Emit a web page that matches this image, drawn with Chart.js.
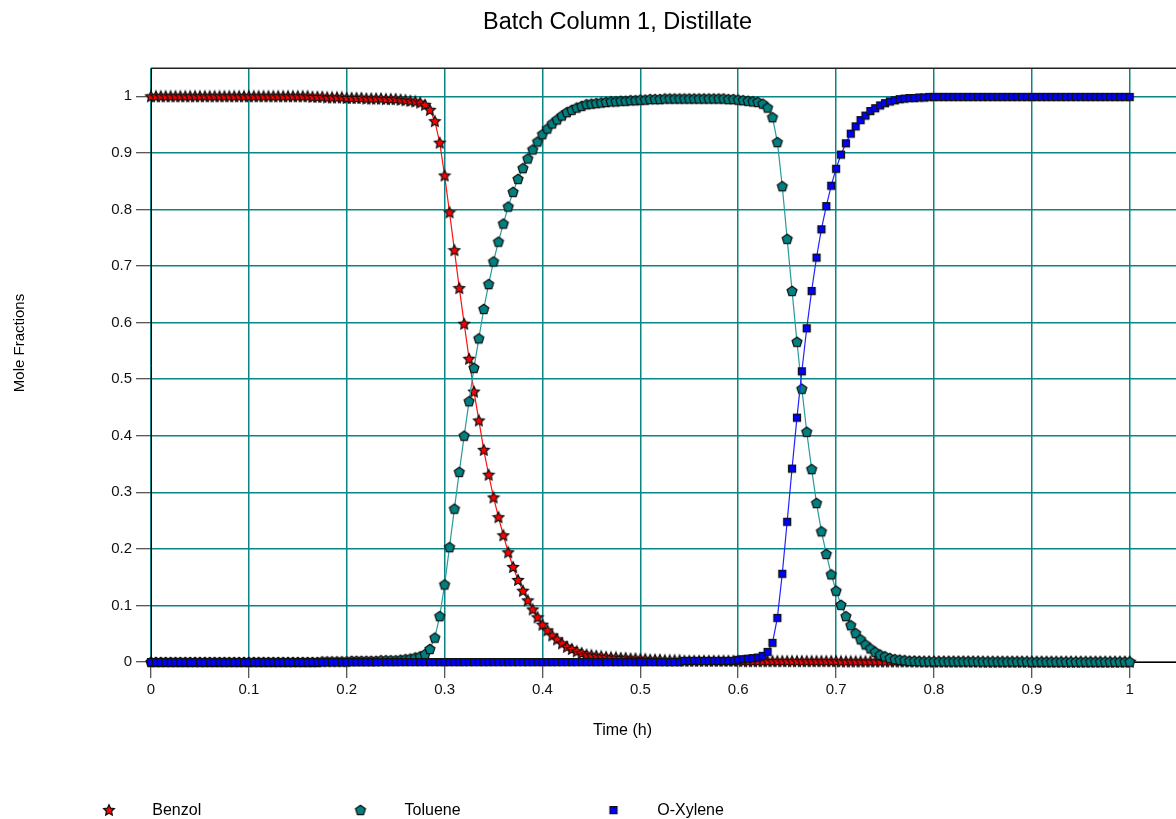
<!DOCTYPE html>
<html>
<head>
<meta charset="utf-8">
<script src="https://cdn.jsdelivr.net/npm/chart.js@4.4.0/dist/chart.umd.min.js"></script>
<style>
  html, body { margin: 0; padding: 0; background: #ffffff; }
  canvas { display: block; }
</style>
</head>
<body>
<canvas id="c" width="1176" height="819"></canvas>
<script>
// ---------------- DATA ----------------
const chartTitle = 'Batch Column 1, Distillate';
const xAxisTitle = 'Time (h)';
const yAxisTitle = 'Mole Fractions';
const seriesNames = ['Benzol', 'Toluene', 'O-Xylene'];

const xTickValues = [0, 0.1, 0.2, 0.3, 0.4, 0.5, 0.6, 0.7, 0.8, 0.9, 1];
const xTickLabels = ['0', '0.1', '0.2', '0.3', '0.4', '0.5', '0.6', '0.7', '0.8', '0.9', '1'];
const yTickValues = [0, 0.1, 0.2, 0.3, 0.4, 0.5, 0.6, 0.7, 0.8, 0.9, 1];
const yTickLabels = ['0', '0.1', '0.2', '0.3', '0.4', '0.5', '0.6', '0.7', '0.8', '0.9', '1'];

const times = [
  0,0.005,0.01,0.015,0.02,0.025,0.03,0.035,0.04,0.045,
  0.05,0.055,0.06,0.065,0.07,0.075,0.08,0.085,0.09,0.095,
  0.1,0.105,0.11,0.115,0.12,0.125,0.13,0.135,0.14,0.145,
  0.15,0.155,0.16,0.165,0.17,0.175,0.18,0.185,0.19,0.195,
  0.2,0.205,0.21,0.215,0.22,0.225,0.23,0.235,0.24,0.245,
  0.25,0.255,0.26,0.265,0.27,0.275,0.28,0.285,0.29,0.295,
  0.3,0.305,0.31,0.315,0.32,0.325,0.33,0.335,0.34,0.345,
  0.35,0.355,0.36,0.365,0.37,0.375,0.38,0.385,0.39,0.395,
  0.4,0.405,0.41,0.415,0.42,0.425,0.43,0.435,0.44,0.445,
  0.45,0.455,0.46,0.465,0.47,0.475,0.48,0.485,0.49,0.495,
  0.5,0.505,0.51,0.515,0.52,0.525,0.53,0.535,0.54,0.545,
  0.55,0.555,0.56,0.565,0.57,0.575,0.58,0.585,0.59,0.595,
  0.6,0.605,0.61,0.615,0.62,0.625,0.63,0.635,0.64,0.645,
  0.65,0.655,0.66,0.665,0.67,0.675,0.68,0.685,0.69,0.695,
  0.7,0.705,0.71,0.715,0.72,0.725,0.73,0.735,0.74,0.745,
  0.75,0.755,0.76,0.765,0.77,0.775,0.78,0.785,0.79,0.795,
  0.8,0.805,0.81,0.815,0.82,0.825,0.83,0.835,0.84,0.845,
  0.85,0.855,0.86,0.865,0.87,0.875,0.88,0.885,0.89,0.895,
  0.9,0.905,0.91,0.915,0.92,0.925,0.93,0.935,0.94,0.945,
  0.95,0.955,0.96,0.965,0.97,0.975,0.98,0.985,0.99,0.995,
  1
];

const benzol = [
  1,1,1,1,1,1,1,1,1,1,
  1,1,1,1,1,1,1,1,1,1,
  1,1,1,1,1,1,1,1,1,1,
  1,1,1,0.999,0.999,0.999,0.998,0.998,0.998,0.998,
  0.997,0.997,0.997,0.997,0.996,0.996,0.996,0.996,0.995,0.995,
  0.995,0.994,0.993,0.992,0.991,0.989,0.985,0.976,0.956,0.918,
  0.860,0.795,0.728,0.661,0.598,0.536,0.478,0.427,0.375,0.331,
  0.291,0.256,0.224,0.194,0.168,0.145,0.126,0.109,0.093,0.079,
  0.066,0.056,0.047,0.040,0.033,0.027,0.023,0.019,0.016,0.013,
  0.012,0.011,0.010,0.009,0.008,0.008,0.007,0.007,0.006,0.006,
  0.005,0.005,0.004,0.004,0.004,0.003,0.003,0.003,0.003,0.002,
  0.002,0.002,0.002,0.002,0.002,0.002,0.002,0.002,0.002,0.002,
  0.002,0.0015,0.0015,0.0015,0.0015,0.0015,0.0015,0.0015,0.0015,0.0015,
  0.0015,0.0015,0.0015,0.0015,0.0015,0.0015,0.0015,0.0015,0.0015,0.0015,
  0.0015,0.001,0.001,0.001,0.001,0.001,0.001,0.001,0.001,0.001,
  0.001,0.001,0.001,0.001,0.001,0.0008,0.0008,0.0008,0.0008,0.0008,
  0.0008,0.0008,0.0008,0.0008,0.0008,0.0008,0.0008,0.0008,0.0008,0.0008,
  0.0005,0.0005,0.0005,0.0005,0.0005,0.0005,0.0005,0.0005,0.0005,0.0005,
  0.0005,0.0005,0.0005,0.0005,0.0005,0.0005,0.0005,0.0005,0.0005,0.0005,
  0.0005,0.0005,0.0005,0.0005,0.0005,0.0005,0.0005,0.0005,0.0005,0.0005,
  0.0005
];

const toluene = [
  0,0,0,0,0,0,0,0,0,0,
  0,0,0,0,0,0,0,0,0,0,
  0,0,0,0,0,0,0,0,0,0,
  0,0,0,0,0,0.001,0.001,0.001,0.001,0.001,
  0.001,0.002,0.002,0.002,0.002,0.002,0.002,0.003,0.003,0.003,
  0.003,0.004,0.005,0.006,0.008,0.010,0.014,0.023,0.043,0.081,
  0.137,0.203,0.271,0.336,0.400,0.461,0.520,0.572,0.624,0.668,
  0.708,0.743,0.775,0.805,0.831,0.854,0.873,0.890,0.906,0.920,
  0.933,0.943,0.952,0.959,0.966,0.972,0.976,0.980,0.983,0.986,
  0.987,0.988,0.989,0.990,0.991,0.991,0.992,0.992,0.993,0.993,
  0.994,0.994,0.995,0.995,0.995,0.996,0.996,0.996,0.996,0.996,
  0.996,0.996,0.996,0.996,0.996,0.996,0.996,0.996,0.995,0.995,
  0.994,0.993,0.992,0.991,0.990,0.987,0.980,0.963,0.919,0.841,
  0.748,0.656,0.566,0.483,0.407,0.341,0.281,0.231,0.191,0.155,
  0.126,0.101,0.081,0.065,0.051,0.040,0.031,0.024,0.018,0.013,
  0.010,0.007,0.005,0.004,0.003,0.002,0.002,0.0015,0.001,0.001,
  0.001,0.001,0.001,0.001,0.001,0.001,0.001,0.001,0.001,0.001,
  0.0008,0.0008,0.0008,0.0008,0.0008,0.0008,0.0008,0.0008,0.0008,0.0008,
  0.0005,0.0005,0.0005,0.0005,0.0005,0.0005,0.0005,0.0005,0.0005,0.0005,
  0.0005,0.0005,0.0005,0.0005,0.0005,0.0005,0.0005,0.0005,0.0005,0.0005,
  0.0005
];

const oXylene = [
  0,0,0,0,0,0,0,0,0,0,
  0,0,0,0,0,0,0,0,0,0,
  0,0,0,0,0,0,0,0,0,0,
  0,0,0,0,0,0,0,0,0,0,
  0,0,0,0,0,0,0,0,0,0,
  0,0,0,0,0,0,0,0,0,0,
  0,0,0,0,0,0,0,0,0,0,
  0,0,0,0,0,0,0,0,0,0,
  0,0,0,0,0,0,0,0,0,0,
  0,0,0,0,0,0,0,0,0,0,
  0,0,0,0,0,0,0,0,0,0.002,
  0.002,0.002,0.002,0.002,0.002,0.002,0.002,0.002,0.002,0.002,
  0.004,0.005,0.006,0.007,0.008,0.011,0.018,0.034,0.078,0.156,
  0.248,0.342,0.432,0.514,0.590,0.656,0.715,0.765,0.806,0.842,
  0.872,0.897,0.917,0.934,0.947,0.958,0.966,0.974,0.979,0.984,
  0.988,0.991,0.993,0.995,0.996,0.997,0.997,0.998,0.998,0.999,
  0.999,0.999,0.999,0.999,0.999,0.999,0.999,0.999,0.999,0.999,
  0.999,0.999,0.999,0.999,0.999,0.999,0.999,0.999,0.999,0.999,
  0.999,0.999,0.999,0.999,0.999,0.999,0.999,0.999,0.999,0.999,
  0.999,0.999,0.999,0.999,0.999,0.999,0.999,0.999,0.999,0.999,
  0.999
];

// ---------------- FONTS ----------------
const sansFamily = '"Liberation Sans", Arial, Helvetica, sans-serif';
const tickFont = { family: sansFamily, size: 15 };
const yTitleFont = '15px ' + sansFamily;

// ---------------- MARKERS ----------------
function makeMarker(kind) {
  const c = document.createElement('canvas');
  c.width = 14; c.height = 14;
  const g = c.getContext('2d');
  const cx = 7, cy = 7;
  g.lineWidth = 1.25;
  g.strokeStyle = '#111111';
  g.lineJoin = 'miter';
  g.beginPath();
  if (kind === 'star') {
    for (let k = 0; k < 10; k++) {
      const r = k % 2 === 0 ? 5.6 : 2.7;
      const a = -Math.PI / 2 + k * Math.PI / 5;
      const px = cx + r * Math.cos(a), py = cy + 0.4 + r * Math.sin(a);
      if (k === 0) g.moveTo(px, py); else g.lineTo(px, py);
    }
    g.closePath();
    g.fillStyle = '#ff0000';
  } else if (kind === 'pentagon') {
    for (let k = 0; k < 5; k++) {
      const a = -Math.PI / 2 + k * 2 * Math.PI / 5;
      const px = cx + 5.2 * Math.cos(a), py = cy + 0.4 + 5.2 * Math.sin(a);
      if (k === 0) g.moveTo(px, py); else g.lineTo(px, py);
    }
    g.closePath();
    g.fillStyle = '#008080';
  } else {
    g.rect(3.5, 3.5, 7, 7);
    g.fillStyle = '#0000ff';
  }
  g.fill();
  g.stroke();
  return c;
}
const markers = [makeMarker('star'), makeMarker('pentagon'), makeMarker('square')];
const lineColors = ['#ff1010', '#2a9a9a', '#2222ff'];
const seriesValues = [benzol, toluene, oXylene];

// ---------------- DECORATION PLUGIN ----------------
const decor = {
  id: 'decor',
  afterDraw(chart) {
    const ctx = chart.ctx;
    const a = chart.chartArea;
    ctx.save();
    // top frame line
    ctx.strokeStyle = '#222';
    ctx.lineWidth = 1.5;
    ctx.beginPath();
    ctx.moveTo(a.left, a.top + 0.25);
    ctx.lineTo(a.right, a.top + 0.25);
    ctx.stroke();

    ctx.fillStyle = '#000';
    // title
    ctx.font = '23.5px ' + sansFamily;
    ctx.textAlign = 'center';
    ctx.textBaseline = 'alphabetic';
    ctx.fillText(chartTitle, 617.5, 29.3);
    // x axis title
    ctx.font = '16px ' + sansFamily;
    ctx.fillText(xAxisTitle, 622.5, 735);
    // y axis title
    ctx.save();
    ctx.translate(23.5, 343);
    ctx.rotate(-Math.PI / 2);
    ctx.font = yTitleFont;
    ctx.fillText(yAxisTitle, 0, 0);
    ctx.restore();
    // legend
    const legendMarkerX = [109, 360.5, 613.5];
    const legendTextX = [152.3, 404.6, 657.2];
    ctx.font = '16px ' + sansFamily;
    ctx.textAlign = 'left';
    chart.data.datasets.forEach((ds, i) => {
      const m = markers[i];
      ctx.drawImage(m, legendMarkerX[i] - m.width / 2, 810 - m.height / 2);
      ctx.fillText(ds.label, legendTextX[i], 815);
    });
    ctx.restore();
  }
};

// ---------------- CHART ----------------
const datasets = seriesNames.map((name, s) => ({
  label: name,
  data: times.map((t, i) => ({ x: t, y: seriesValues[s][i] })),
  borderColor: lineColors[s],
  backgroundColor: lineColors[s],
  borderWidth: 1.2,
  tension: 0,
  fill: false,
  pointStyle: markers[s],
  pointRadius: 5,
  pointHoverRadius: 5,
  clip: false,
  order: 3 - s
}));

new Chart(document.getElementById('c'), {
  type: 'line',
  data: { datasets },
  options: {
    responsive: false,
    animation: false,
    devicePixelRatio: 1,
    events: [],
    layout: { autoPadding: false, padding: { top: 68, left: 0, right: 0, bottom: 0 } },
    plugins: {
      legend: { display: false },
      title: { display: false },
      tooltip: { enabled: false }
    },
    scales: {
      x: {
        type: 'linear',
        min: 0,
        max: 1.0473,
        afterBuildTicks: (s) => { s.ticks = xTickValues.map(v => ({ value: v })); },
        afterFit: (s) => { s.height = 157; s.paddingLeft = 0; s.paddingRight = 0; },
        grid: { color: '#0a8585', lineWidth: 1.5, tickLength: 16, tickColor: '#222', tickWidth: 1, z: -2 },
        border: { display: true, color: '#000', width: 1, z: -1 },
        ticks: {
          autoSkip: false, maxRotation: 0, minRotation: 0, padding: 3,
          color: '#111', font: tickFont,
          callback: (v, i) => xTickLabels[i]
        }
      },
      y: {
        type: 'linear',
        min: 0,
        max: 1.05,
        afterBuildTicks: (s) => { s.ticks = yTickValues.map(v => ({ value: v })); },
        afterFit: (s) => { s.width = 151; s.paddingTop = 0; s.paddingBottom = 0; },
        grid: { color: '#0a8585', lineWidth: 1.5, tickLength: 15, tickColor: '#222', tickWidth: 1, z: -2 },
        border: { display: true, color: '#000', width: 1, z: -1 },
        ticks: {
          autoSkip: false, padding: 4,
          color: '#111', font: tickFont,
          callback: (v, i) => yTickLabels[i]
        }
      }
    }
  },
  plugins: [decor]
});
</script>
</body>
</html>
